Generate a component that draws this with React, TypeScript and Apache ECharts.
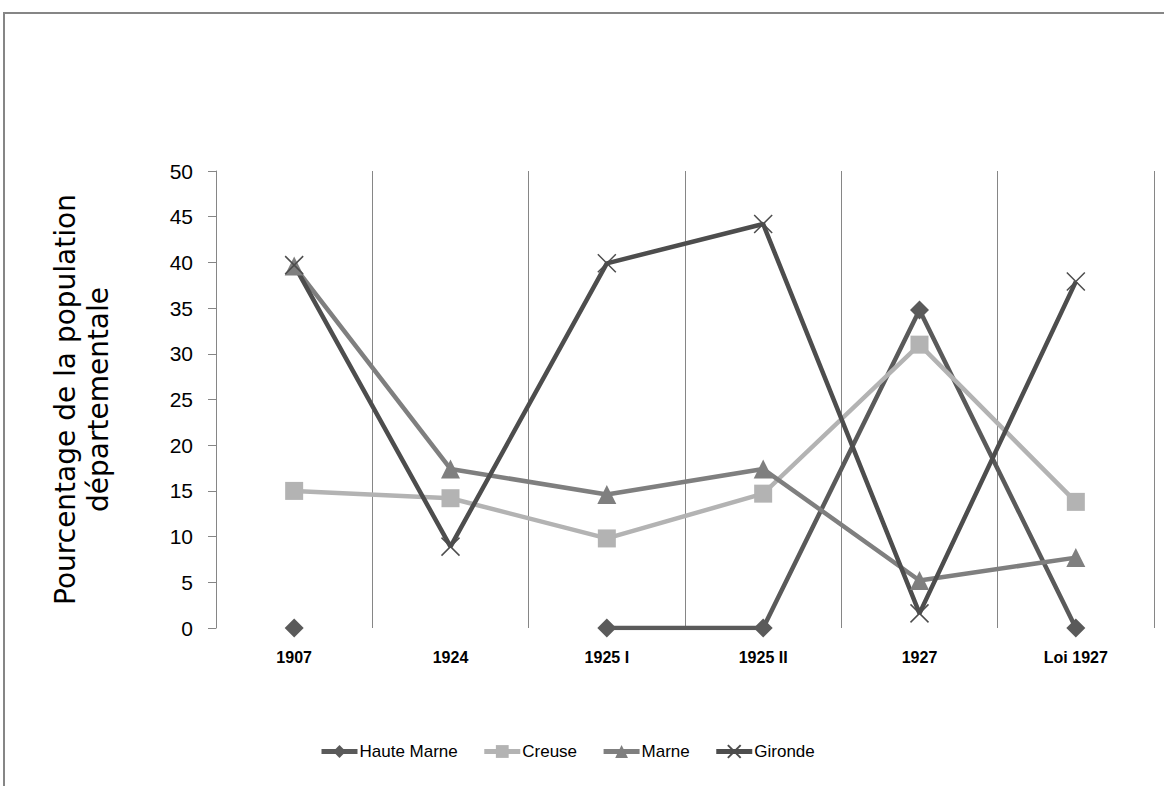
import React, { useEffect, useRef } from "react";
import * as echarts from "echarts";

const categories = ["1907", "1924", "1925 I", "1925 II", "1927", "Loi 1927"];
const hauteMarne: (number | null)[] = [0, null, 0, 0, 34.8, 0];
const creuse = [15, 14.2, 9.8, 14.7, 31, 13.8];
const marne = [39.6, 17.4, 14.6, 17.4, 5.2, 7.7];
const gironde = [39.7, 8.9, 39.9, 44.2, 1.6, 37.9];
const yTicks = { min: 0, max: 50, interval: 5 };

export default function App() {
  const ref = useRef<HTMLDivElement>(null);
  useEffect(() => {
    if (!ref.current) return;
    const chart = echarts.init(ref.current, undefined, { renderer: "svg" });
    const crossPath = "path://M0,0L10,10M10,0L0,10";
    chart.setOption({
      animation: false,
      backgroundColor: "#ffffff",
      graphic: [
        {
          type: "rect",
          shape: { x: 4, y: 13, width: 1300, height: 900 },
          style: { fill: "none", stroke: "#868686", lineWidth: 2 },
          silent: true,
        },
      ],
      grid: { left: 216, right: 10, top: 171, bottom: 158 },
      legend: {
        left: 314,
        top: 738,
        itemWidth: 36,
        itemHeight: 16,
        itemGap: 24,
        lineStyle: { width: 5 },
        textStyle: { fontFamily: "Liberation Sans", fontSize: 17, color: "#000", padding: [0, 0, 0, -3] },
        data: ["Haute Marne", "Creuse", "Marne", "Gironde"],
      },
      xAxis: {
        type: "category",
        data: categories,
        boundaryGap: true,
        axisLine: { show: false },
        axisTick: { show: false },
        splitLine: { show: true, lineStyle: { color: "#868686", width: 1 } },
        axisLabel: {
          margin: 21,
          fontFamily: "Liberation Sans Narrow, Liberation Sans",
          fontWeight: "bold",
          fontSize: 16,
          color: "#000",
        },
      },
      yAxis: {
        type: "value",
        min: yTicks.min,
        max: yTicks.max,
        interval: yTicks.interval,
        name: "Pourcentage de la population\ndépartementale",
        nameLocation: "middle",
        nameGap: 101,
        nameTextStyle: { fontFamily: "DejaVu Sans", fontSize: 28, color: "#000", lineHeight: 33 },
        axisLine: { show: true, lineStyle: { color: "#868686", width: 1 } },
        axisTick: { show: true, inside: false, length: 8, lineStyle: { color: "#868686" } },
        splitLine: { show: false },
        axisLabel: { margin: 23, fontFamily: "Liberation Sans", fontSize: 21, color: "#000" },
      },
      series: [
        {
          name: "Haute Marne",
          type: "line",
          data: hauteMarne,
          connectNulls: false,
          symbol: "diamond",
          symbolSize: 19,
          showAllSymbol: true,
          lineStyle: { color: "#5a5a5a", width: 4.5 },
          itemStyle: { color: "#5a5a5a" },
        },
        {
          name: "Creuse",
          type: "line",
          data: creuse,
          symbol: "rect",
          symbolSize: 18,
          lineStyle: { color: "#b3b3b3", width: 4.5 },
          itemStyle: { color: "#b3b3b3" },
        },
        {
          name: "Marne",
          type: "line",
          data: marne,
          symbol: "triangle",
          symbolSize: 19,
          lineStyle: { color: "#7f7f7f", width: 4.5 },
          itemStyle: { color: "#7f7f7f" },
        },
        {
          name: "Gironde",
          type: "line",
          data: gironde,
          symbol: crossPath,
          symbolSize: 18,
          lineStyle: { color: "#4d4d4d", width: 4.5 },
          itemStyle: { color: "#4d4d4d", borderColor: "#4d4d4d", borderWidth: 1.5 },
        },
      ],
    });
    return () => chart.dispose();
  }, []);
  return (
    <div
      ref={ref}
      style={{ position: "absolute", left: 0, top: 0, width: 1164, height: 786 }}
    />
  );
}
